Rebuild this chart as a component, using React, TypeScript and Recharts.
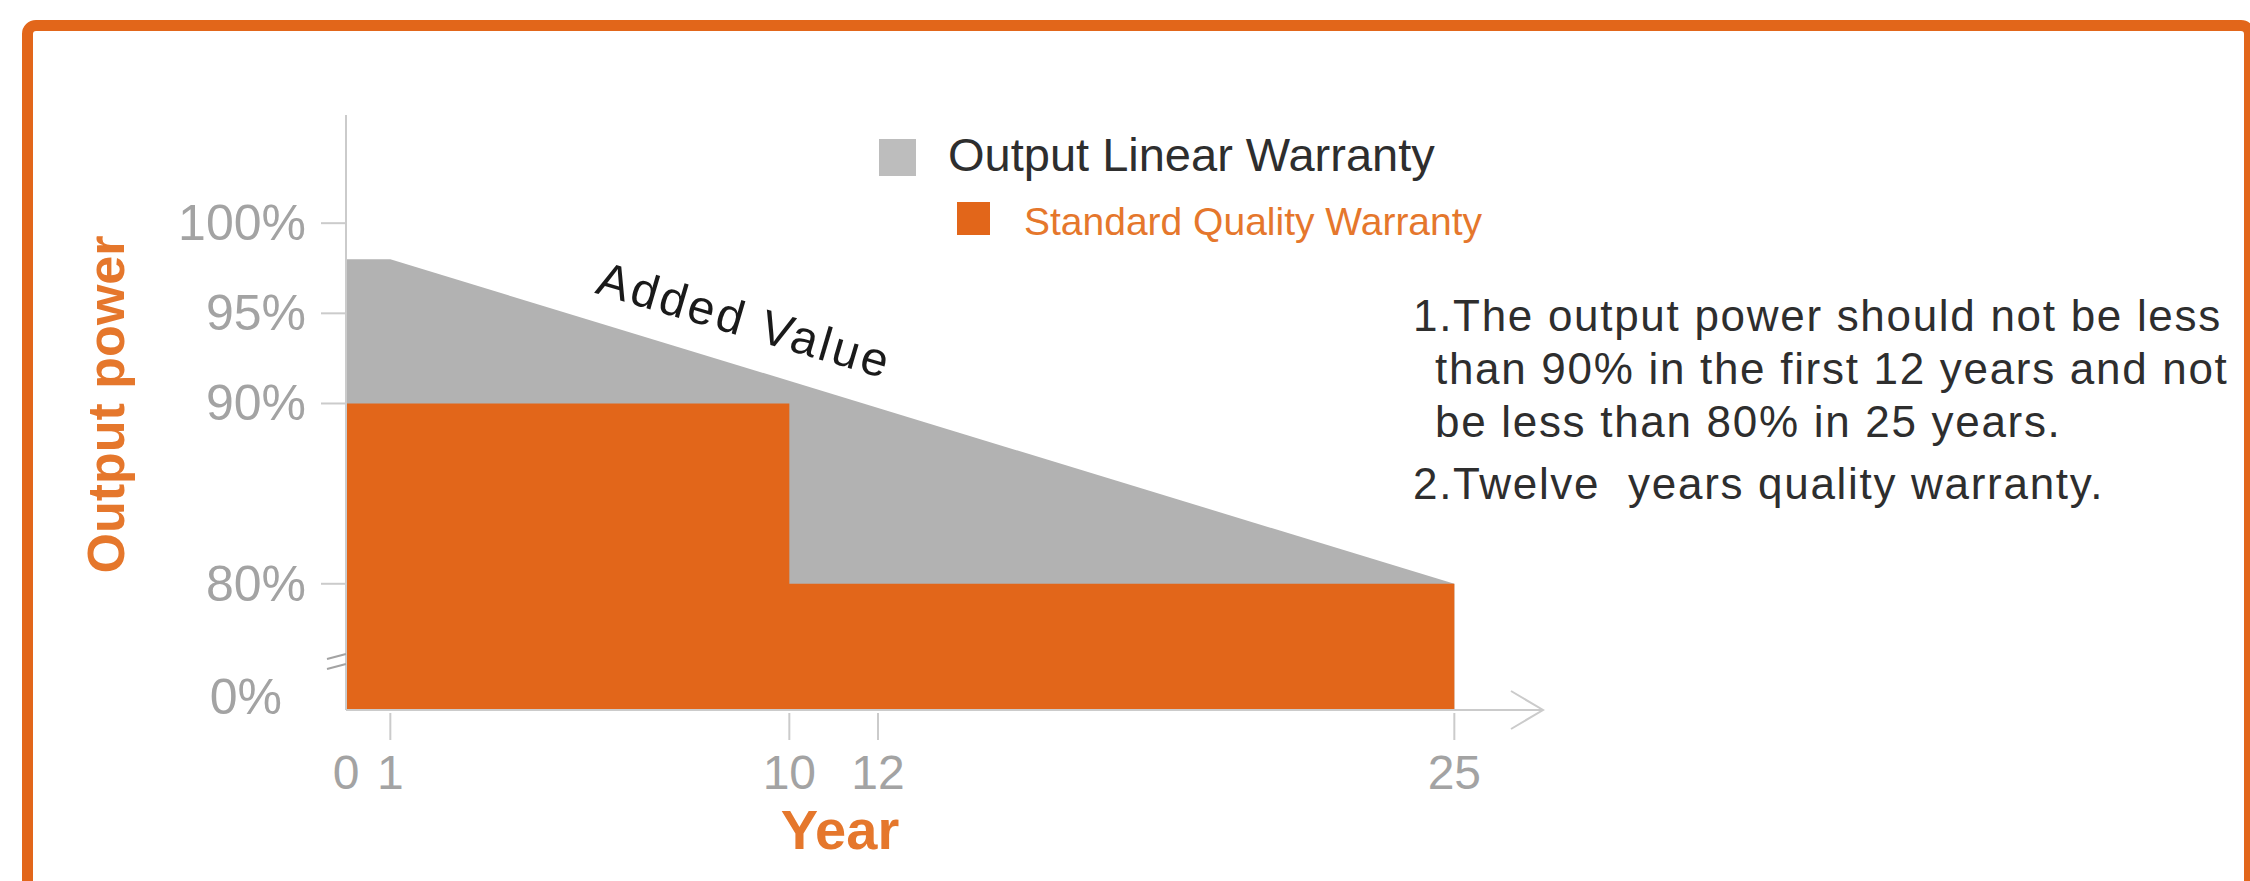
import { ComposedChart, Area, XAxis, YAxis, Legend } from 'recharts'

// Module power warranty: linear output warranty (grey) against the standard
// stepped quality warranty (orange). The y axis is broken below 80%, so its
// bottom is labelled 0%.

const YEARS = [0, 1, 10, 25]
const LINEAR_WARRANTY = [98, 98, null, 80]
const STANDARD_WARRANTY = [90, 90, 80, 80]
const SERIES_NAMES = ['Output Linear Warranty', 'Standard Quality Warranty']

const X_TICKS = [0, 1, 10, 12, 25]
const Y_BREAK = 73 // bottom of the broken axis, shown as 0%
const Y_TICKS = [Y_BREAK, 80, 90, 95, 100]

const NOTES = [
  { text: '1.The output power should not be less', indent: false, gap: false },
  { text: 'than 90% in the first 12 years and not', indent: true, gap: false },
  { text: 'be less than 80% in 25 years.', indent: true, gap: false },
  { text: '2.Twelve  years quality warranty.', indent: false, gap: true },
]

const FONT = '"Liberation Sans", Arial, Helvetica, sans-serif'
const ORANGE = '#E2661A'
const ORANGE_TEXT = '#E5772C'
const GRAY_FILL = '#B2B2B2'
const LEGEND_GRAY = '#BDBDBD'
const AXIS_GRAY = '#CBCBCB'
const TICK_GRAY = '#A3A3A3'
const TEXT_DARK = '#2E2E2E'

const Y_TICK_SIZE = 28
const Y_TICK_MARGIN = 12
const X_TICK_SIZE = 28
const X_TICK_MARGIN = 10

const data = YEARS.map((year, i) => ({
  year,
  linear: LINEAR_WARRANTY[i],
  standard: STANDARD_WARRANTY[i],
}))

function YTick(props: any) {
  const { x, y, payload } = props
  const axisX = x + Y_TICK_SIZE + Y_TICK_MARGIN
  if (payload.value === Y_BREAK) {
    return (
      <g>
        <text x={axisX - 64} y={y - 13} textAnchor="end" dominantBaseline="central"
          fontFamily={FONT} fontSize={50} fill={TICK_GRAY}>0%</text>
        <path d={`M${axisX - 19},${y - 51} l19,-5 M${axisX - 19},${y - 41} l19,-5`}
          stroke={TICK_GRAY} strokeWidth={2} fill="none" />
      </g>
    )
  }
  return (
    <g>
      <line x1={axisX - 25} x2={axisX} y1={y} y2={y} stroke={AXIS_GRAY} strokeWidth={2} />
      <text x={x} y={y} textAnchor="end" dominantBaseline="central"
        fontFamily={FONT} fontSize={50} fill={TICK_GRAY}>{`${payload.value}%`}</text>
    </g>
  )
}

function XTick(props: any) {
  const { x, y, payload } = props
  const axisY = y - X_TICK_SIZE - X_TICK_MARGIN
  return (
    <g>
      {payload.value !== 0 && (
        <line x1={x} x2={x} y1={axisY + 3} y2={axisY + 30} stroke={AXIS_GRAY} strokeWidth={2} />
      )}
      <text x={x} y={axisY + 62} textAnchor="middle" dominantBaseline="central"
        fontFamily={FONT} fontSize={48} fill={TICK_GRAY}>{payload.value}</text>
    </g>
  )
}

function XAxisTitle(props: any) {
  const vb = props.viewBox ?? { x: 346, y: 710, width: 1197, height: 171 }
  const endX = vb.x + vb.width
  return (
    <g>
      <polyline points={`${endX - 32},${vb.y - 19} ${endX},${vb.y} ${endX - 32},${vb.y + 19}`}
        fill="none" stroke={AXIS_GRAY} strokeWidth={2} />
      <text x={vb.x + 494} y={vb.y + 119} textAnchor="middle" dominantBaseline="central"
        fontFamily={FONT} fontSize={56} fontWeight="bold" fill={ORANGE_TEXT}>Year</text>
    </g>
  )
}

function YAxisTitle(props: any) {
  const vb = props.viewBox ?? { x: 0, y: 115, width: 346, height: 595 }
  const cx = vb.x + 106
  const cy = vb.y + vb.height / 2 - 8
  return (
    <text x={cx} y={cy} transform={`rotate(-90 ${cx} ${cy})`} textAnchor="middle"
      dominantBaseline="central" fontFamily={FONT} fontSize={52} fontWeight="bold"
      fill={ORANGE_TEXT}>Output power</text>
  )
}

const LEGEND_ROWS = [
  { swatch: LEGEND_GRAY, box: 37, boxLeft: 1, boxTop: 2, textLeft: 70, textTop: -2, size: 47, color: TEXT_DARK },
  { swatch: ORANGE, box: 33, boxLeft: 79, boxTop: 65, textLeft: 146, textTop: 65, size: 39, color: ORANGE_TEXT },
]

function LegendContent(props: any) {
  const payload = props.payload ?? []
  return (
    <div style={{ position: 'relative', width: 640, height: 110, fontFamily: FONT }}>
      {payload.map((entry: any, i: number) => {
        const row = LEGEND_ROWS[i]
        if (!row) return null
        return (
          <div key={entry.value}>
            <div style={{
              position: 'absolute', left: row.boxLeft, top: row.boxTop,
              width: row.box, height: row.box, background: row.swatch,
            }} />
            <div style={{
              position: 'absolute', left: row.textLeft, top: row.textTop, height: 40,
              lineHeight: '40px', fontSize: row.size, color: row.color, whiteSpace: 'nowrap',
            }}>{entry.value}</div>
          </div>
        )
      })}
    </div>
  )
}

export default function App() {
  return (
    <div style={{ position: 'absolute', left: 0, top: 0, width: 2250, height: 881, overflow: 'hidden', background: '#fff' }}>
      <div style={{
        position: 'absolute', left: 22, top: 20, width: 2233, height: 900,
        border: `11px solid ${ORANGE}`, borderRadius: 14, boxSizing: 'border-box',
      }} />

      <div style={{ position: 'absolute', left: 0, top: 0 }}>
        <ComposedChart width={2250} height={881} data={data}
          margin={{ top: 115, right: 707, bottom: 0, left: 0 }}>
          <XAxis type="number" dataKey="year" domain={[0, 27]} ticks={X_TICKS} interval={0}
            height={171} tickSize={X_TICK_SIZE} tickMargin={X_TICK_MARGIN} tickLine={false}
            axisLine={{ stroke: AXIS_GRAY, strokeWidth: 2 }} tick={XTick}
            label={<XAxisTitle />} />
          <YAxis type="number" domain={[Y_BREAK, 106]} ticks={Y_TICKS} interval={0}
            width={346} tickSize={Y_TICK_SIZE} tickMargin={Y_TICK_MARGIN} tickLine={false}
            axisLine={{ stroke: AXIS_GRAY, strokeWidth: 2 }} tick={YTick}
            label={<YAxisTitle />} />
          <Legend layout="horizontal" align="center" verticalAlign="middle"
            content={LegendContent}
            wrapperStyle={{ left: 878, top: 137, width: 640, height: 110 }} />
          <Area type="linear" dataKey="linear" name={SERIES_NAMES[0]} connectNulls
            fill={GRAY_FILL} fillOpacity={1} stroke="none" dot={false} activeDot={false}
            isAnimationActive={false} />
          <Area type="stepAfter" dataKey="standard" name={SERIES_NAMES[1]}
            fill={ORANGE} fillOpacity={1} stroke="none" dot={false} activeDot={false}
            isAnimationActive={false} />
        </ComposedChart>
      </div>

      <svg width={2250} height={881} style={{ position: 'absolute', left: 0, top: 0, pointerEvents: 'none' }}>
        <text x={740} y={336} textAnchor="middle" transform="rotate(16.5 740 336)"
          fontFamily={FONT} fontSize={48} letterSpacing={3} fill="#1A1A1A">Added Value</text>
      </svg>

      <div style={{
        position: 'absolute', left: 1413, top: 289, fontFamily: FONT, fontSize: 44,
        letterSpacing: 1.7, lineHeight: '53px', color: TEXT_DARK, whiteSpace: 'pre',
      }}>
        {NOTES.map(n => (
          <div key={n.text} style={{ paddingLeft: n.indent ? 22 : 0, marginTop: n.gap ? 9 : 0 }}>{n.text}</div>
        ))}
      </div>
    </div>
  )
}
